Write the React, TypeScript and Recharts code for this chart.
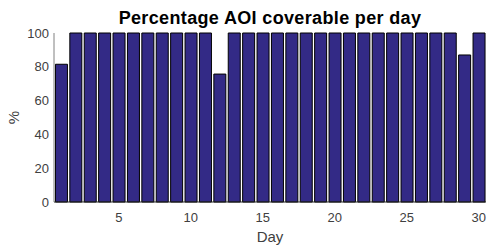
import React from "react";
import { BarChart, Bar, XAxis, YAxis, Label } from "recharts";

const days = [1,2,3,4,5,6,7,8,9,10,11,12,13,14,15,16,17,18,19,20,21,22,23,24,25,26,27,28,29,30];
const coverage = [81.5,100,100,100,100,100,100,100,100,100,100,75.7,100,100,100,100,100,100,100,100,100,100,100,100,100,100,100,100,87,100];
const xTicks = [5,10,15,20,25,30];
const yTicks = [0,20,40,60,80,100];

const data = days.map((d, i) => ({ day: d, pct: coverage[i] }));

const FONT = "'Liberation Sans', Arial, Helvetica, sans-serif";

export default function App() {
  return (
    <div style={{ position: "absolute", left: 0, top: 0, width: 488, height: 245, background: "#fff", fontFamily: FONT }}>
      <div style={{ position: "absolute", left: 54, width: 432, top: 8, textAlign: "center", fontWeight: "bold", fontSize: 18, letterSpacing: 0.35, color: "#000", lineHeight: "20px" }}>
        Percentage AOI coverable per day
      </div>
      <BarChart width={488} height={245} data={data} margin={{ top: 33, right: 2, bottom: 0, left: 0 }} barCategoryGap="10%">
        <XAxis
          dataKey="day"
          type="number"
          domain={[0.5, 30.5]}
          ticks={xTicks}
          allowDataOverflow
          height={43}
          tickLine={false}
          tickSize={5}
          tickMargin={6}
          axisLine={{ stroke: "#262626", strokeWidth: 1 }}
          tick={{ fill: "#404040", fontSize: 13, fontFamily: FONT }}
        >
          <Label value="Day" position="insideBottom" offset={3} style={{ fill: "#404040", fontSize: 15, fontFamily: FONT }} />
        </XAxis>
        <YAxis
          type="number"
          domain={[0, 100]}
          ticks={yTicks}
          width={54}
          tickLine={false}
          tickSize={5}
          tickMargin={0}
          axisLine={{ stroke: "#808080", strokeWidth: 1 }}
          tick={{ fill: "#404040", fontSize: 13, fontFamily: FONT }}
        >
          <Label value="%" angle={-90} position="insideLeft" offset={14} style={{ fill: "#404040", fontSize: 15, fontFamily: FONT, textAnchor: "middle" }} />
        </YAxis>
        <Bar dataKey="pct" fill="#332a86" stroke="#000" strokeWidth={1} isAnimationActive={false} />
      </BarChart>
    </div>
  );
}
